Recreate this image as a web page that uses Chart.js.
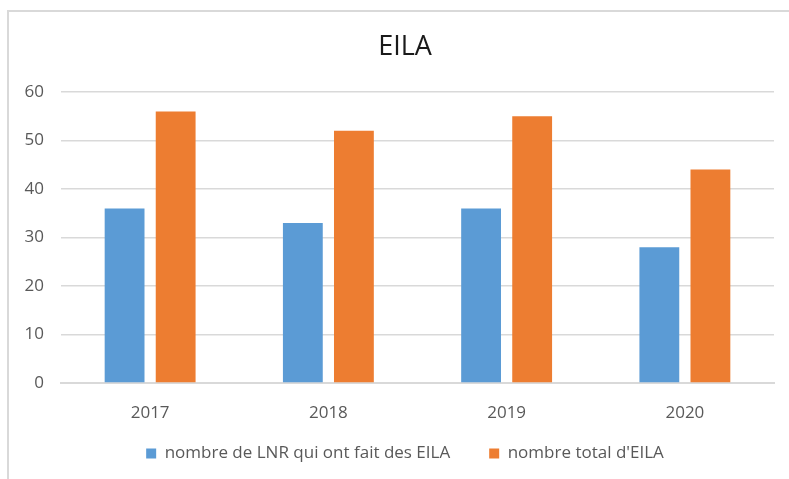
<!DOCTYPE html>
<html>
<head>
<meta charset="utf-8">
<script src="https://cdn.jsdelivr.net/npm/chart.js@4/dist/chart.umd.min.js"></script>
<style>
  html, body { margin: 0; padding: 0; background: #fff; }
  #wrap { position: relative; width: 789px; height: 479px; overflow: hidden; }
  #frame { position: absolute; left: 7px; top: 10px; width: 900px; height: 600px; border: 2px solid #d9d9d9; }
  #c { position: absolute; left: 0; top: 0; }
</style>
</head>
<body>
<div id="wrap">
  <div id="frame"></div>
  <canvas id="c" width="789" height="479"></canvas>
</div>
<script>
var years = ["2017", "2018", "2019", "2020"];
var lnrValues = [36, 33, 36, 28];
var totalValues = [56, 52, 55, 44];
var yTicks = [0, 10, 20, 30, 40, 50, 60];

var textColor = "#595959";
var fontFamily = "'Open Sans', 'Liberation Sans', sans-serif";

// legend padding is big (gap between the two items), so stretch the box back up
var legendLift = {
  id: "legendLift",
  afterLayout: function (chart) {
    var lg = chart.legend;
    lg.top -= 29;
    lg.height = lg.bottom - lg.top;
  },
};

new Chart("c", {
  type: "bar",
  data: {
    labels: years,
    datasets: [
      {
        label: "nombre de LNR qui ont fait des EILA",
        data: lnrValues,
        backgroundColor: "#5B9BD5",
        categoryPercentage: 0.573,
        barPercentage: 0.78,
      },
      {
        label: "nombre total d'EILA",
        data: totalValues,
        backgroundColor: "#ED7D31",
        categoryPercentage: 0.573,
        barPercentage: 0.78,
      },
    ],
  },
  plugins: [legendLift],
  options: {
    responsive: false,
    animation: false,
    // uneven left/right padding so the title and legend sit centred like the original
    layout: { padding: { left: 21, right: 0, top: 0, bottom: 7 } },
    plugins: {
      title: {
        display: true,
        text: "EILA",
        color: "#1a1a1a",
        font: { family: fontFamily, size: 27, weight: "normal" },
        padding: { top: 31, bottom: 28.6 },
      },
      legend: {
        position: "bottom",
        maxHeight: 37,
        labels: {
          color: textColor,
          font: { family: fontFamily, size: 17 },
          boxWidth: 10,
          boxHeight: 10,
          padding: 39,
        },
      },
      tooltip: { enabled: false },
    },
    scales: {
      x: {
        grid: { display: false },
        border: { color: "#d9d9d9", width: 2 },
        ticks: { color: textColor, font: { family: fontFamily, size: 17 }, padding: 12 },
        afterFit: function (scale) { scale.height = 52; },
      },
      y: {
        min: 0,
        max: 60,
        afterBuildTicks: function (scale) {
          scale.ticks = yTicks.map(function (v) { return { value: v }; });
        },
        grid: { color: "#d9d9d9", lineWidth: 1.5, drawTicks: false },
        border: { display: false },
        ticks: { color: textColor, font: { family: fontFamily, size: 17 }, padding: 17 },
        afterFit: function (scale) { scale.width = 40; },
      },
      // empty right-hand spacer so the plot ends where the original's does
      yRight: {
        position: "right",
        display: true,
        grid: { display: false },
        border: { display: false },
        ticks: { display: false },
        afterFit: function (scale) { scale.width = 15; },
      },
    },
  },
});
</script>
</body>
</html>
